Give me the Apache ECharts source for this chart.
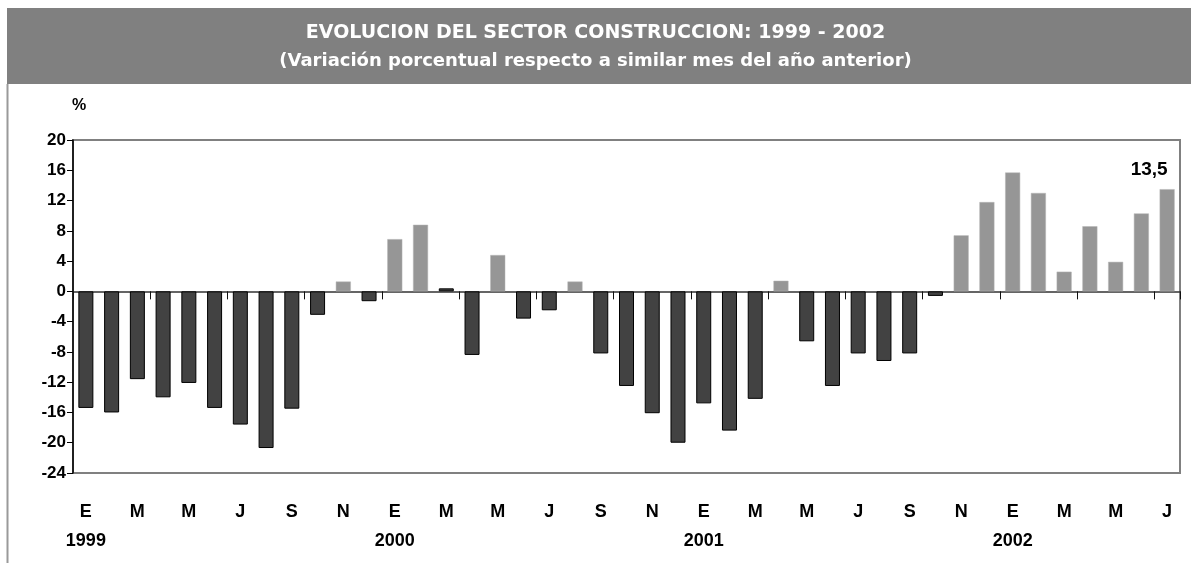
<!DOCTYPE html>
<html>
<head>
<meta charset="utf-8">
<script src="https://cdn.jsdelivr.net/npm/echarts@6/dist/echarts.min.js"></script>
<style>
html,body{margin:0;padding:0;background:#fff;}
#c{width:1191px;height:563px;}
</style>
</head>
<body>
<div id="c"></div>
<script>
// Data
const years = ['1999', '2000', '2001', '2002'];
const monthInitials = ['E','F','M','A','M','J','J','A','S','O','N','D'];
const monthsPerYear = [12, 12, 12, 7];
const values = [
  -15.4, -16.0, -11.6, -14.0, -12.1, -15.4, -17.6, -20.7, -15.5, -3.1, 1.3, -1.3,
  6.9, 8.8, 0.4, -8.4, 4.8, -3.6, -2.5, 1.3, -8.2, -12.5, -16.1, -20.0,
  -14.8, -18.4, -14.2, 1.4, -6.6, -12.5, -8.2, -9.2, -8.2, -0.6, 7.4, 11.8,
  15.7, 13.0, 2.6, 8.6, 3.9, 10.3, 13.5
];
const yTicks = { min: -24, max: 20, interval: 4 };
const lastLabel = '13,5';

const categories = [];
years.forEach((y, yi) => {
  for (let m = 0; m < monthsPerYear[yi]; m++) categories.push(monthInitials[m] + '|' + y + '|' + m);
});

const FONT = '"Liberation Sans", Arial, sans-serif';
const DARK = '#424242';
const LIGHT = '#969696';

const chart = echarts.init(document.getElementById('c'), null, { renderer: 'canvas' });
chart.setOption({
  animation: false,
  backgroundColor: '#fff',
  graphic: [
    { type: 'rect', left: 7, top: 8, shape: { width: 1184, height: 76 }, style: { fill: '#808080' }, z: 0 },
    { type: 'line', shape: { x1: 7.5, y1: 84, x2: 7.5, y2: 563 }, style: { stroke: '#9a9a9a', lineWidth: 2 }, z: 0 },
    { type: 'text', left: 'center', top: 24, style: { text: 'EVOLUCION DEL SECTOR CONSTRUCCION: 1999 - 2002', fill: '#fff', font: 'bold 19px "DejaVu Sans", sans-serif' }, z: 5 },
    { type: 'text', left: 'center', top: 52, style: { text: '(Variación porcentual respecto a similar mes del año anterior)', fill: '#fff', font: 'bold 18px "DejaVu Sans", sans-serif' }, z: 5 },
    { type: 'text', left: 72, top: 98, style: { text: '%', fill: '#000', font: 'bold 16px ' + FONT }, z: 5 }
  ],
  grid: { left: 73, right: 11, top: 140, bottom: 90, show: true, borderColor: '#808080', borderWidth: 2, backgroundColor: 'transparent' },
  xAxis: [
    {
      type: 'category', data: categories, boundaryGap: true,
      axisLine: { show: true, onZero: true, lineStyle: { color: '#333', width: 1.5 } },
      axisTick: { show: true, length: 8, inside: false, alignWithLabel: false, lineStyle: { color: '#111', width: 1 } },
      axisLabel: { show: false },
      splitLine: { show: false }
    },
    {
      type: 'category', data: categories, boundaryGap: true, position: 'bottom',
      axisLine: { show: false }, axisTick: { show: false }, splitLine: { show: false },
      axisLabel: {
        interval: 1, margin: 25, color: '#000', fontFamily: FONT, fontWeight: 'bold', fontSize: 18,
        lineHeight: 29,
        formatter: function (v) {
          const p = v.split('|');
          return p[2] === '0' ? p[0] + '\n' + p[1] : p[0];
        }
      }
    }
  ],
  yAxis: {
    type: 'value', min: yTicks.min, max: yTicks.max, interval: yTicks.interval,
    axisLine: { show: true, lineStyle: { color: '#000', width: 1.5 } },
    axisTick: { show: true, length: 6, lineStyle: { color: '#000' } },
    axisLabel: { color: '#000', fontFamily: FONT, fontWeight: 'bold', fontSize: 17, margin: 7 },
    splitLine: { show: false }
  },
  series: [{
    type: 'bar', xAxisIndex: 0, barWidth: 15,
    data: values.map((v, i) => ({
      value: v,
      itemStyle: v < 1 ? { color: DARK, borderColor: '#000', borderWidth: 1 } : { color: LIGHT, borderColor: '#b5b5b5', borderWidth: 0.5 },
      label: i === values.length - 1 ? {
        show: true, position: 'top', offset: [-18, -5], formatter: lastLabel,
        color: '#000', fontFamily: FONT, fontWeight: 'bold', fontSize: 19
      } : { show: false }
    })),
    z: 3
  }]
});
</script>
</body>
</html>
